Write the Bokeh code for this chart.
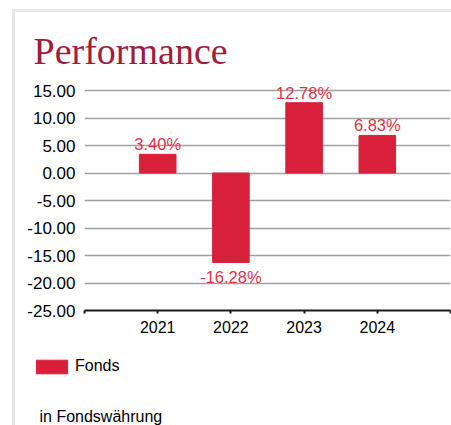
from bokeh.plotting import figure
from bokeh.layouts import column
from bokeh.models import (ColumnDataSource, FixedTicker, NumeralTickFormatter, Label,
                          Legend, LegendItem, Range1d, InlineStyleSheet)
from bokeh.embed import file_html
from bokeh.resources import INLINE

years = ["2021", "2022", "2023", "2024"]
values = [3.40, -16.28, 12.78, 6.83]
y_ticks = [-25, -20, -15, -10, -5, 0, 5, 10, 15]
series_name = "Fonds"
title_text = "Performance"
footnote_text = "in Fondswährung"

BAR = "#d9203a"
LBL = "#e03249"
TITLE = "#a01d3c"
FONT = "Liberation Sans"
BORDER = "#e6e6e6"

W = 451
H1 = 345
H2 = 80

xs = list(range(1, len(years) + 1))
labels = ["%.2f%%" % v for v in values]
yoff = [-10 if v >= 0 else 14 for v in values]
src = ColumnDataSource(dict(x=xs, top=values, label=labels, yoff=yoff))

# ---------------- main chart ----------------
p = figure(width=W, height=H1, output_backend="svg", toolbar_location=None,
           x_range=Range1d(0, len(years) + 1), y_range=Range1d(-25, 17),
           min_border_left=84, min_border_right=1, min_border_top=79,
           min_border_bottom=H1 - 310)
p.frame_align = False
p.outline_line_color = None
p.border_fill_alpha = 0
p.background_fill_color = "white"
p.stylesheets = [InlineStyleSheet(css=(
    ":host { background:"
    f" linear-gradient({BORDER},{BORDER}) 12px 9px / 3px 100% no-repeat,"
    f" linear-gradient({BORDER},{BORDER}) 12px 9px / 100% 3px no-repeat,"
    " white; }"))]

p.title.text = title_text
p.title.align = "left"
p.title.offset = -51
p.title.standoff = 16
p.title.text_font = "Liberation Serif"
p.title.text_font_size = "38px"
p.title.text_font_style = "normal"
p.title.text_color = TITLE

bars = p.vbar(x="x", top="top", bottom=0, width=0.5, source=src,
              fill_color=BAR, line_color=BAR)

p.text(x="x", y="top", text="label", source=src, y_offset="yoff",
       text_align="center", text_baseline="alphabetic",
       text_color=LBL, text_font_size="16.5px", text_font={"value": FONT})

p.xgrid.visible = False
p.ygrid.ticker = FixedTicker(ticks=y_ticks)
p.ygrid.grid_line_color = "#a0a0a0"
p.ygrid.grid_line_width = 1.5

ya = p.yaxis[0]
ya.ticker = FixedTicker(ticks=y_ticks)
ya.formatter = NumeralTickFormatter(format="0.00")
ya.axis_line_color = None
ya.major_tick_line_color = None
ya.major_tick_out = 0
ya.major_tick_in = 0
ya.minor_tick_line_color = None
ya.major_label_standoff = 9
ya.major_label_text_font = FONT
ya.major_label_text_font_size = "17px"
ya.major_label_text_color = "black"

xa = p.xaxis[0]
xa.ticker = FixedTicker(ticks=list(range(0, len(years) + 2)))
overrides = {0: "", len(years) + 1: ""}
for i, y in zip(xs, years):
    overrides[i] = y
xa.major_label_overrides = overrides
xa.axis_line_color = "#1a1a1a"
xa.axis_line_width = 2
xa.major_tick_line_color = "#1a1a1a"
xa.major_tick_line_width = 2
xa.major_tick_out = 3
xa.major_tick_in = 0
xa.minor_tick_line_color = None
xa.major_label_standoff = 7
xa.major_label_text_font = FONT
xa.major_label_text_font_size = "16px"
xa.major_label_text_color = "black"

# ---------------- legend + footnote strip ----------------
q = figure(width=W, height=H2, output_backend="svg", toolbar_location=None,
           title=None, x_axis_type=None, y_axis_type=None,
           x_range=Range1d(0, 1), y_range=Range1d(0, 1),
           min_border=0, min_border_left=0, min_border_right=0,
           min_border_top=0, min_border_bottom=0)
q.frame_align = False
q.outline_line_color = None
q.grid.visible = False
q.border_fill_alpha = 0
q.background_fill_alpha = 0
q.stylesheets = [InlineStyleSheet(css=(
    ":host { background:"
    f" linear-gradient({BORDER},{BORDER}) 12px 0px / 3px 100% no-repeat,"
    " white; }"))]

# swatch renderer for the legend (its single bar lies outside the visible range)
legend_src = ColumnDataSource(dict(x=[5], top=[1]))
swatch = q.vbar(x="x", top="top", bottom=0, width=0.5, source=legend_src,
                fill_color=BAR, line_color=BAR)

legend = Legend(items=[LegendItem(label=series_name, renderers=[swatch])],
                location=(32, 50), glyph_width=39, glyph_height=17, label_height=17,
                label_standoff=4, padding=0, margin=0, border_line_color=None,
                background_fill_alpha=0, label_text_font=FONT, label_text_font_size="16px",
                label_text_color="black")
q.add_layout(legend)

q.add_layout(Label(x=39, y=9, x_units="screen", y_units="screen", text=footnote_text,
                   text_font=FONT, text_font_size="16px",
                   text_color="black", text_baseline="alphabetic"))

layout = column(p, q, spacing=0)
open("out.html", "w").write(file_html(layout, INLINE))
